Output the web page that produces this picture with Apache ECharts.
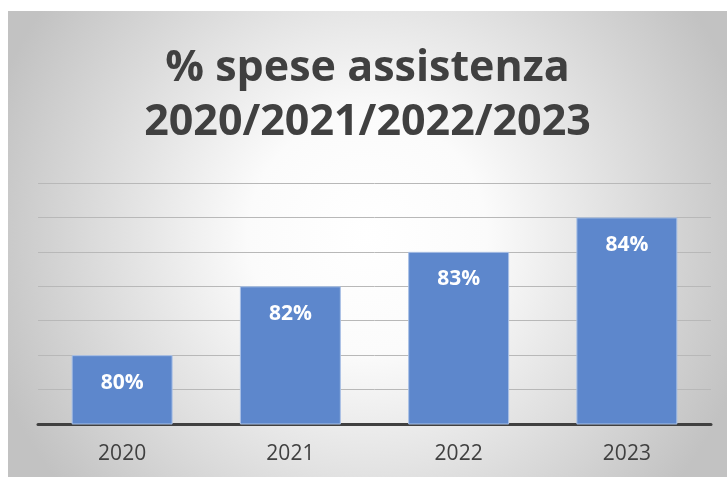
<!DOCTYPE html>
<html>
<head>
<meta charset="utf-8">
<script src="https://cdn.jsdelivr.net/npm/echarts@6/dist/echarts.min.js"></script>
<style>
    html, body { margin: 0; padding: 0; background: #ffffff; }
    #chart { position: absolute; left: 8px; top: 11px; width: 719px; height: 466px; }
</style>
</head>
<body>
<div id="chart"></div>
<script>
    var titleText = '% spese assistenza\n2020/2021/2022/2023';
    var years = ['2020', '2021', '2022', '2023'];
    var percentages = [80, 82, 83, 84];
    var yMin = 78, yMax = 85, yStep = 1;

    var fontFamily = '"Open Sans", "Noto Sans", sans-serif';
    var myChart = echarts.init(document.getElementById('chart'));

    var option = {
        backgroundColor: {
            type: 'radial',
            x: 0.5, y: 0.48, r: 0.85,
            colorStops: [
                { offset: 0, color: '#ffffff' },
                { offset: 0.3, color: '#fbfbfb' },
                { offset: 1, color: '#c2c2c2' }
            ]
        },
        animation: false,
        title: {
            text: titleText,
            left: 'center',
            top: 26,
            textStyle: {
                fontFamily: fontFamily,
                fontSize: 43,
                fontWeight: 'bold',
                color: '#404040',
                lineHeight: 54
            }
        },
        grid: {
            left: 30,
            right: 16,
            top: 172,
            bottom: 53
        },
        xAxis: {
            type: 'category',
            data: years,
            axisTick: { show: false },
            axisLine: { lineStyle: { color: '#404040', width: 3 } },
            axisLabel: {
                color: '#404040',
                fontFamily: fontFamily,
                fontSize: 21,
                margin: 20
            }
        },
        yAxis: {
            type: 'value',
            min: yMin,
            max: yMax,
            interval: yStep,
            axisLabel: { show: false },
            axisLine: { show: false },
            axisTick: { show: false },
            splitLine: { lineStyle: { color: '#b8b8b8', width: 1 } }
        },
        series: [{
            type: 'bar',
            data: percentages,
            barWidth: '60%',
            itemStyle: {
                color: '#5d87cc',
                borderColor: '#a9c0e6',
                borderWidth: 1
            },
            label: {
                show: true,
                position: 'insideTop',
                distance: 17,
                formatter: '{c}%',
                color: '#ffffff',
                fontFamily: fontFamily,
                fontSize: 21,
                fontWeight: 'bold'
            }
        }]
    };

    myChart.setOption(option);
</script>
</body>
</html>
